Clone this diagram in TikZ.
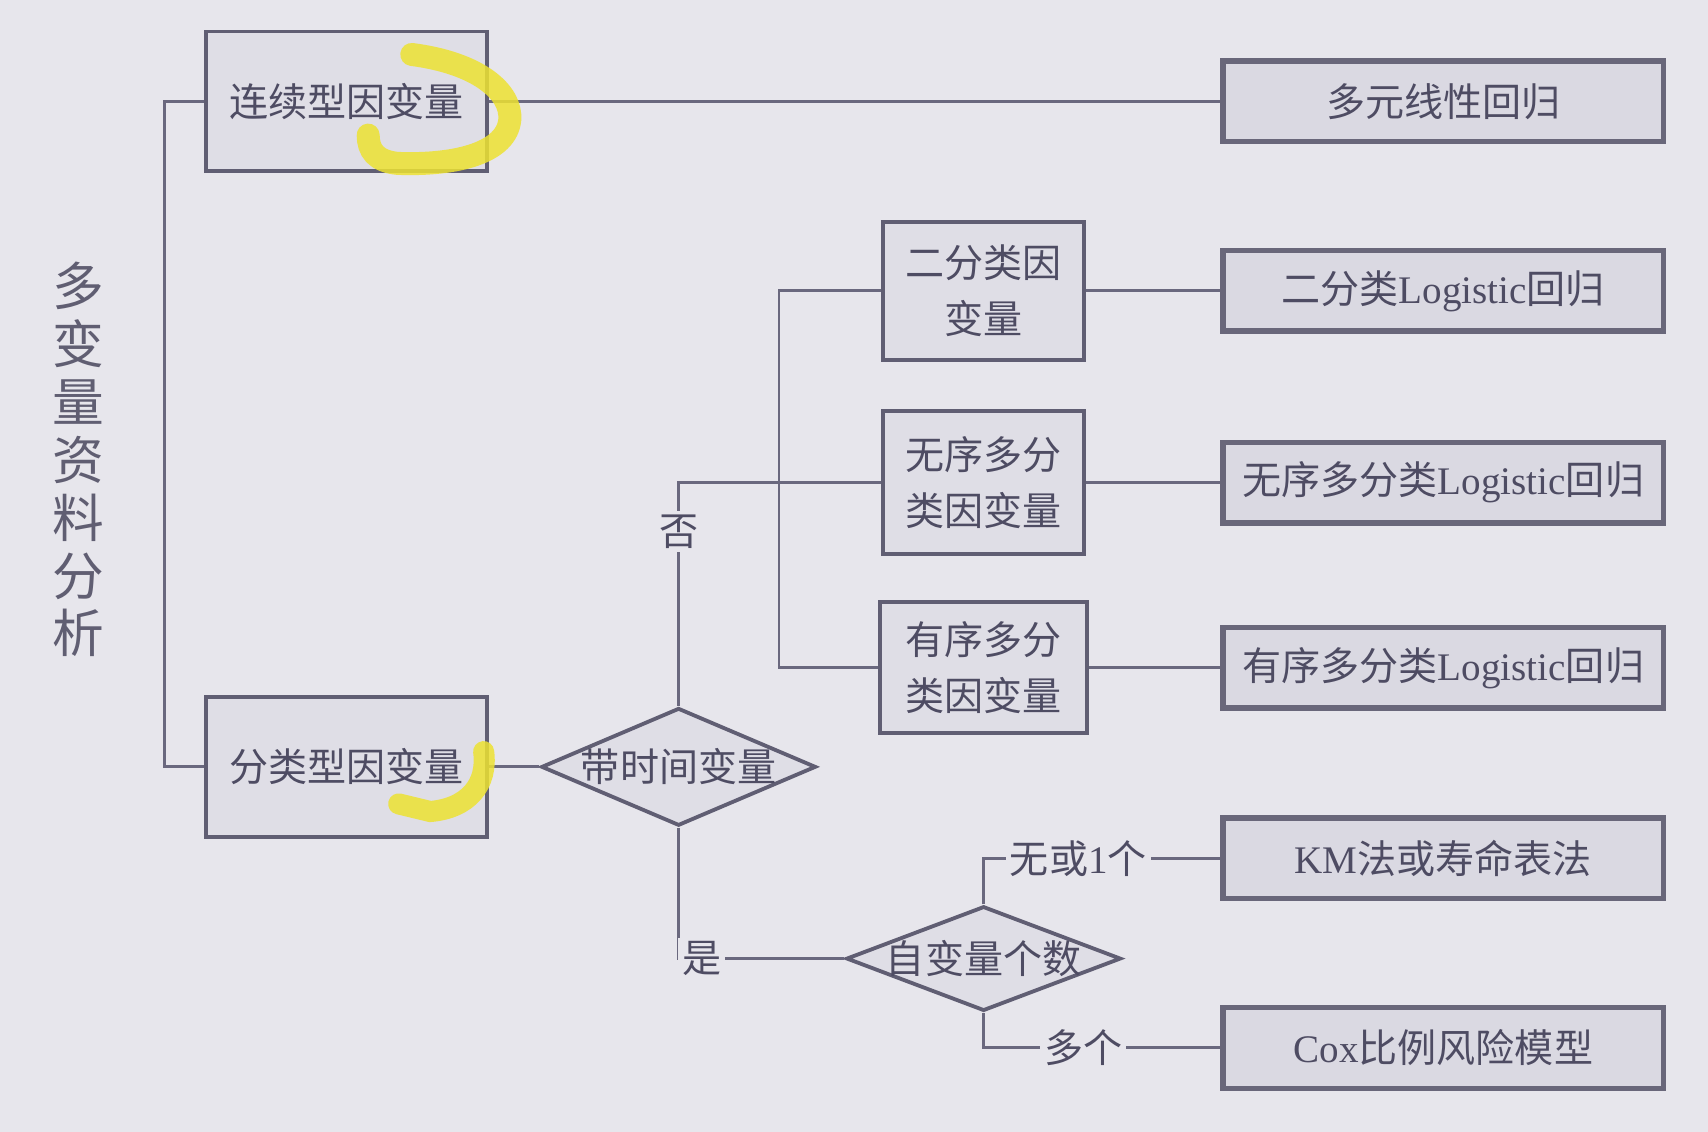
\documentclass[tikz,border=0pt]{standalone}
\usepackage{fontspec}
\setmainfont{Liberation Serif}
\newfontfamily\cjk{Noto Sans CJK SC}
\usetikzlibrary{shapes.geometric}
\definecolor{bgcol}{HTML}{E7E6EC}
\definecolor{ink}{HTML}{4E4C63}
\definecolor{linecol}{HTML}{6A687E}
\definecolor{boxfill}{HTML}{DFDEE6}
\definecolor{rboxfill}{HTML}{DAD9E2}
\definecolor{hilite}{HTML}{EDE232}
\newcommand{\rmtxt}[1]{\textrm{#1}}
\begin{document}
\begin{tikzpicture}[
		x=0.01cm, y=-0.01cm,
		font=\cjk\fontsize{10.2}{14.8}\selectfont,
		text=ink
	]
	\tikzset{
		mybox/.style = {rectangle, draw=ink!90, line width=1pt, fill=boxfill, align=center, inner sep=0pt},
		mybigbox/.style = {mybox, minimum width=2.58cm, minimum height=1.28cm},
		mymidbox/.style = {mybox, minimum width=1.84cm, minimum height=1.27cm},
		myresult/.style = {mybox, draw=ink!85, line width=1.4pt, fill=rboxfill, minimum width=4.04cm, minimum height=0.74cm},
		mydecision/.style = {diamond, draw=ink!90, line width=1pt, fill=boxfill, inner sep=0pt, minimum width=2.52cm},
		link/.style = {draw=linecol, line width=0.75pt},
		linklabel/.style = {fill=bgcol, inner sep=1pt},
		hlmark/.style = {draw=hilite, line cap=round, opacity=0.85},
	}
	% background
	\fill[bgcol] (0,0) rectangle (1568,1039);
	\useasboundingbox (0,0) rectangle (1568,1039);
	% title
	\node[align=center, text=ink!90, font=\cjk\fontsize{13.5}{15.1}\selectfont] (title) at (72,422) {多\\变\\量\\资\\料\\分\\析};
	% dependent variable types
	\node[mybigbox] (cont) at (318,93) {连续型因变量};
	\node[mybigbox] (cat) at (318,704) {分类型因变量};
	%
	\node[mymidbox] (bin) at (903,267) {二分类因\\变量};
	\node[mymidbox, minimum height=1.31cm] (unord) at (903,443) {无序多分\\类因变量};
	\node[mymidbox, minimum width=1.90cm, minimum height=1.20cm] (ord) at (903,613) {有序多分\\类因变量};
	%
	\node[mydecision, minimum height=1.08cm, label={center:带时间变量}] (timevar) at (623,704) {};
	\node[mydecision, minimum height=0.96cm, label={center:自变量个数}] (nvar) at (903,880) {};
	% methods
	\node[myresult] (mlr) at (1325,93) {多元线性回归};
	\node[myresult] (binr) at (1325,267) {二分类\rmtxt{Logistic}回归};
	\node[myresult] (unordr) at (1325,443) {无序多分类\rmtxt{Logistic}回归};
	\node[myresult] (ordr) at (1325,613) {有序多分类\rmtxt{Logistic}回归};
	\node[myresult] (km) at (1325,788) {\rmtxt{KM}法或寿命表法};
	\node[myresult] (cox) at (1325,962) {\rmtxt{Cox}比例风险模型};
	%
	\draw[link] (cont.west) -- ++(-36,0) |- (cat.west);
	\draw[link] (cont) -- (mlr);
	\draw[link] (cat) -- (timevar);
	%
	\draw[link] (timevar.north) |- node[linklabel, pos=0.39] {否} (unord.west);
	\draw[link] (bin.west) -- ++(-94,0) |- (ord.west);
	\draw[link] (bin) -- (binr);
	\draw[link] (unord) -- (unordr);
	\draw[link] (ord) -- (ordr);
	%
	\draw[link] (timevar.south) |- node[linklabel, pos=0.57] {是} (nvar.west);
	\draw[link] (nvar.north) |- node[linklabel, pos=0.70] {无或\rmtxt{1}个} (km.west);
	\draw[link] (nvar.south) |- node[linklabel, pos=0.71] {多个} (cox.west);
	% highlighter marks
	\draw[hlmark, line width=6pt] (378,50) .. controls (440,58) and (470,85) .. (468,110)
		.. controls (465,140) and (420,152) .. (365,150)
		.. controls (345,148) and (338,138) .. (338,124);
	\draw[hlmark, line width=5.5pt] (444,690) .. controls (448,720) and (430,742) .. (395,745) -- (366,738);
\end{tikzpicture}
\end{document}
